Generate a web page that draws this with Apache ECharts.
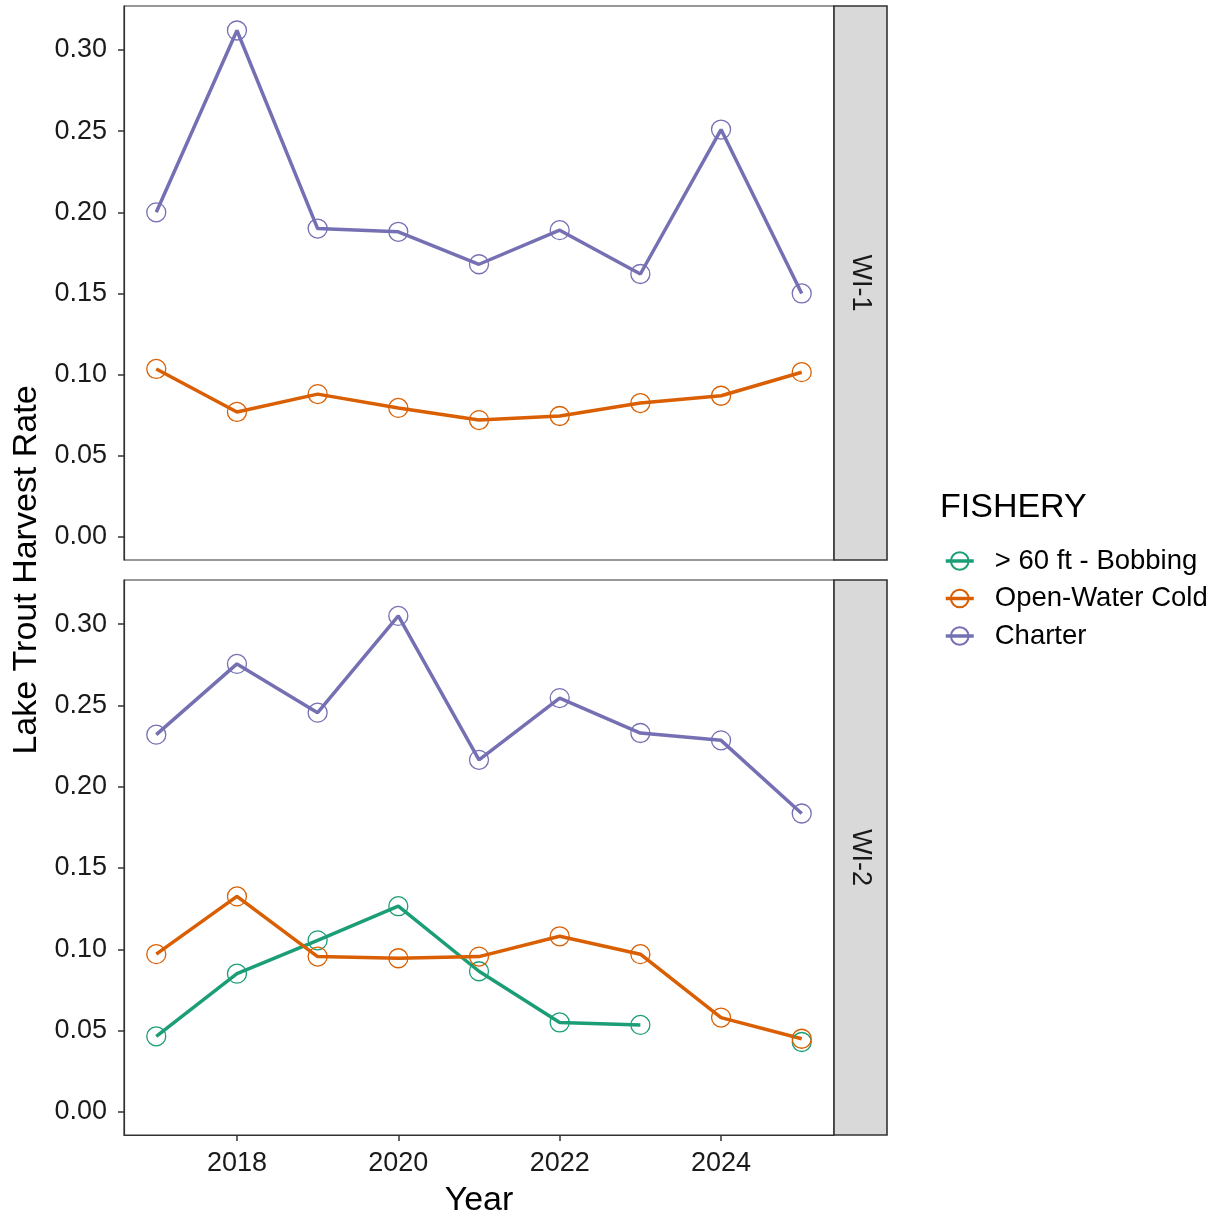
<!DOCTYPE html>
<html>
<head>
<meta charset="utf-8">
<title>Lake Trout Harvest Rate by Fishery</title>
<script src="https://cdn.jsdelivr.net/npm/echarts@6/dist/echarts.min.js"></script>
<style>
  html, body { margin: 0; padding: 0; background: #fff; }
  #chart { width: 1219px; height: 1218px; }
</style>
</head>
<body>
<div id="chart"></div>
<script>
// Survey years and management units
const years = [2017, 2018, 2019, 2020, 2021, 2022, 2023, 2024, 2025];
const units = ['WI-1', 'WI-2'];
const fisheries = ['> 60 ft - Bobbing', 'Open-Water Cold', 'Charter'];
const fisheryColors = ['#1B9E77', '#D95F02', '#7570B3'];

// Harvest rates, WI-1
const wi1Charter = [0.200, 0.312, 0.190, 0.188, 0.168, 0.189, 0.162, 0.251, 0.150];
const wi1OpenWater = [0.1035, 0.077, 0.088, 0.0795, 0.072, 0.0745, 0.0825, 0.087, 0.1015];

// Harvest rates, WI-2 (no bobbing estimate for 2024)
const wi2Charter = [0.232, 0.2755, 0.2455, 0.305, 0.2165, 0.2545, 0.233, 0.2285, 0.1835];
const wi2OpenWater = [0.097, 0.1325, 0.0955, 0.0945, 0.0955, 0.108, 0.097, 0.058, 0.045];
const wi2Bobbing = [0.0465, 0.085, 0.1055, 0.1265, 0.0865, 0.055, 0.0535, null, 0.043];

// Axis ticks
const yTicks = [0, 0.05, 0.10, 0.15, 0.20, 0.25, 0.30];
const xTicks = [2018, 2020, 2022, 2024];

const chart = echarts.init(document.getElementById('chart'), null, { renderer: 'canvas' });

const FONT = 'Liberation Sans, Arial, sans-serif';
const TXT = '#1a1a1a';
const BORDER = '#333333';
const SMALL = 27;
const BASE = 34;

const panelLeft = 124, panelWidth = 710, stripWidth = 53;
const panels = [
  { top: 6, height: 554 },
  { top: 580, height: 555 }
];

function pairs(vals) {
  return years.map((y, i) => [y, vals[i]]);
}

function lineSeries(name, vals, gridIndex) {
  const c = fisheryColors[fisheries.indexOf(name)];
  return {
    name: name,
    type: 'line',
    xAxisIndex: gridIndex,
    yAxisIndex: gridIndex,
    data: pairs(vals),
    connectNulls: false,
    symbol: 'circle',
    symbolSize: 19,
    showSymbol: true,
    lineStyle: { color: c, width: 3.5 },
    itemStyle: { color: 'rgba(255,255,255,0)', borderColor: c, borderWidth: 1.3 },
    emphasis: { disabled: true },
    z: 3
  };
}

const yRange = { min: -0.0142, max: 0.3271 };
const xRange = { min: 2016.6, max: 2025.4 };

const grids = panels.map(p => ({
  left: panelLeft, top: p.top, width: panelWidth, height: p.height,
  show: true, borderColor: BORDER, borderWidth: 1.2, backgroundColor: '#fff',
  containLabel: false,
  outerBoundsMode: 'none'
}));

const xAxes = panels.map((p, i) => ({
  type: 'value', gridIndex: i, min: xRange.min, max: xRange.max,
  splitLine: { show: false },
  axisLine: { show: i === 1, onZero: false, lineStyle: { color: BORDER, width: 1.2 } },
  axisTick: { show: i === 1, length: 6, customValues: xTicks, lineStyle: { color: BORDER, width: 1.5 } },
  axisLabel: { show: i === 1, customValues: xTicks, color: TXT, fontSize: SMALL, margin: 15,
               fontFamily: FONT, formatter: v => String(v) },
  name: i === 1 ? 'Year' : '',
  nameLocation: 'middle', nameGap: 49,
  nameTextStyle: { color: '#000', fontSize: BASE, fontFamily: FONT }
}));

const yAxes = panels.map((p, i) => ({
  type: 'value', gridIndex: i, min: yRange.min, max: yRange.max,
  splitLine: { show: false },
  axisLine: { show: true, onZero: false, lineStyle: { color: BORDER, width: 1.2 } },
  axisTick: { show: true, length: 6, customValues: yTicks, lineStyle: { color: BORDER, width: 1.5 } },
  axisLabel: { customValues: yTicks, color: TXT, fontSize: SMALL, margin: 17,
               fontFamily: FONT, formatter: v => v.toFixed(2) }
}));

const series = [
  lineSeries('Open-Water Cold', wi1OpenWater, 0),
  lineSeries('Charter', wi1Charter, 0),
  lineSeries('> 60 ft - Bobbing', wi2Bobbing, 1),
  lineSeries('Open-Water Cold', wi2OpenWater, 1),
  lineSeries('Charter', wi2Charter, 1)
];

// Facet strips on the right of each panel
const strips = [];
panels.forEach((p, i) => {
  strips.push({
    type: 'rect',
    shape: { x: panelLeft + panelWidth, y: p.top, width: stripWidth, height: p.height },
    style: { fill: '#D9D9D9', stroke: BORDER, lineWidth: 1.6 },
    z: 10
  });
  strips.push({
    type: 'text',
    x: panelLeft + panelWidth + stripWidth / 2,
    y: p.top + p.height / 2,
    rotation: -Math.PI / 2,
    style: {
      text: units[i], fill: TXT, fontSize: SMALL, fontFamily: FONT,
      align: 'center', verticalAlign: 'middle'
    },
    z: 11
  });
});

const option = {
  animation: false,
  backgroundColor: '#ffffff',
  grid: grids,
  xAxis: xAxes,
  yAxis: yAxes,
  legend: {
    data: fisheries,
    orient: 'vertical',
    left: 944, top: 547,
    padding: 0,
    itemWidth: 28, itemHeight: 22,
    itemGap: 9.5,
    lineStyle: { width: 3.5 },
    textStyle: { color: '#000', fontSize: 27.5, fontFamily: FONT, padding: [0, 0, 0, 16] },
    selectedMode: false
  },
  graphic: strips.concat([
    {
      type: 'text', x: 27, y: 570, rotation: Math.PI / 2,
      style: {
        text: 'Lake Trout Harvest Rate', fill: '#000', fontSize: BASE, fontFamily: FONT,
        align: 'center', verticalAlign: 'middle'
      }
    },
    {
      type: 'text', x: 940, y: 508,
      style: {
        text: 'FISHERY', fill: '#000', fontSize: BASE, fontFamily: FONT,
        align: 'left', verticalAlign: 'middle'
      }
    }
  ]),
  series: series
};

chart.setOption(option);
</script>
</body>
</html>
